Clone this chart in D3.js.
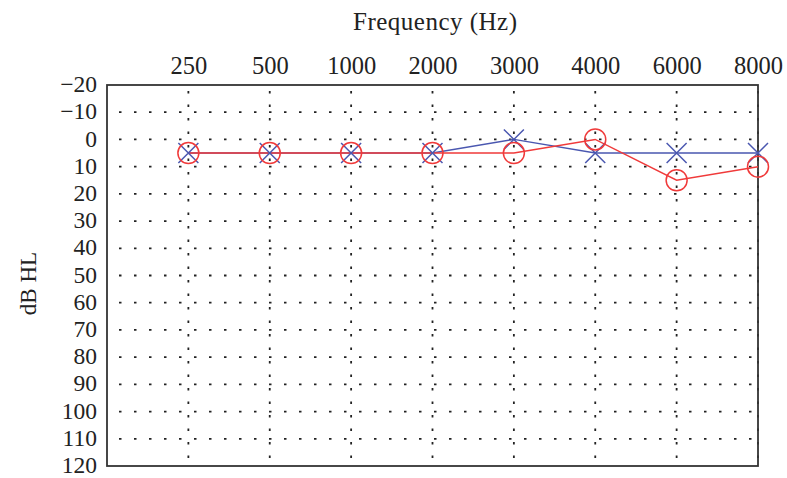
<!DOCTYPE html>
<html><head><meta charset="utf-8">
<script src="https://cdn.jsdelivr.net/npm/d3@7"></script>
<style>body{margin:0;background:#fff}svg{display:block}</style>
</head><body>
<script>
const frequencies = ["250","500","1000","2000","3000","4000","6000","8000"];
const leftEar = [5,5,5,5,0,5,5,5];      // blue X
const rightEar = [5,5,5,5,5,0,15,10];   // red O
const yTicks = [-20,-10,0,10,20,30,40,50,60,70,80,90,100,110,120];

const W=787,H=478;
const m={l:107,t:85,r:758,b:466};
const svg=d3.select("body").append("svg").attr("width",W).attr("height",H);
const font="'Liberation Serif','DejaVu Serif',serif";

const x=d3.scalePoint().domain(["", ...frequencies]).range([m.l,m.r]);
const y=d3.scaleLinear().domain([-20,120]).range([m.t,m.b]);

// grid
const g=svg.append("g");
g.selectAll("line.h").data(yTicks.filter(d=>d>-20&&d<120)).join("line")
 .attr("x1",m.l).attr("x2",m.r).attr("y1",d=>y(d)).attr("y2",d=>y(d))
 .attr("stroke","#222").attr("stroke-width",1.8).attr("stroke-dasharray","2.5,12.5").attr("stroke-dashoffset",-12);
g.selectAll("line.v").data(frequencies).join("line")
 .attr("x1",d=>x(d)).attr("x2",d=>x(d)).attr("y1",m.t).attr("y2",m.b)
 .attr("stroke","#222").attr("stroke-width",1.8).attr("stroke-dasharray","2.5,11").attr("stroke-dashoffset",-6);

// axes
const topAxis=svg.append("g").attr("transform",`translate(0,${m.t})`)
 .call(d3.axisTop(x).tickValues(frequencies).tickSize(0).tickPadding(11));
topAxis.select(".domain").remove();
topAxis.selectAll("text").attr("font-family",font).attr("font-size",24.5).attr("fill","#222");
const leftAxis=svg.append("g").attr("transform",`translate(${m.l},0)`)
 .call(d3.axisLeft(y).tickValues(yTicks).tickSize(0).tickPadding(10).tickFormat(d=>d<0?"\u2212"+(-d):d));
leftAxis.select(".domain").remove();
leftAxis.selectAll("text").attr("font-family",font).attr("font-size",23.5).attr("fill","#222").attr("dy","0.28em");

svg.append("rect").attr("x",m.l).attr("y",m.t).attr("width",m.r-m.l).attr("height",m.b-m.t)
 .attr("fill","none").attr("stroke","#333").attr("stroke-width",1.8);

svg.append("text").attr("x",435).attr("y",30).attr("text-anchor","middle")
 .attr("font-family",font).attr("font-size",25).attr("fill","#222")
 .attr("textLength",164).attr("lengthAdjust","spacing").text("Frequency (Hz)");
svg.append("text").attr("transform",`translate(36,${(m.t+m.b)/2+8}) rotate(-90)`).attr("text-anchor","middle")
 .attr("font-family",font).attr("font-size",23).attr("fill","#222").text("dB HL");

const blue="#4a57b0", red="#f03a3a";
const line=d3.line().x((d,i)=>x(frequencies[i])).y(d=>y(d));
svg.append("path").datum(leftEar).attr("d",line).attr("fill","none").attr("stroke",blue).attr("stroke-width",1.4);
svg.append("path").datum(rightEar).attr("d",line).attr("fill","none").attr("stroke",red).attr("stroke-width",1.5);

const s=10;
svg.selectAll("path.xm").data(leftEar).join("path")
 .attr("d",(d,i)=>{const cx=x(frequencies[i]),cy=y(d);return `M${cx-s},${cy-s}L${cx+s},${cy+s}M${cx-s},${cy+s}L${cx+s},${cy-s}`;})
 .attr("stroke",blue).attr("stroke-width",1.5).attr("fill","none");
svg.selectAll("circle.om").data(rightEar).join("circle")
 .attr("cx",(d,i)=>x(frequencies[i])).attr("cy",d=>y(d)).attr("r",10.5)
 .attr("fill","none").attr("stroke",red).attr("stroke-width",1.5);
</script>
</body></html>
